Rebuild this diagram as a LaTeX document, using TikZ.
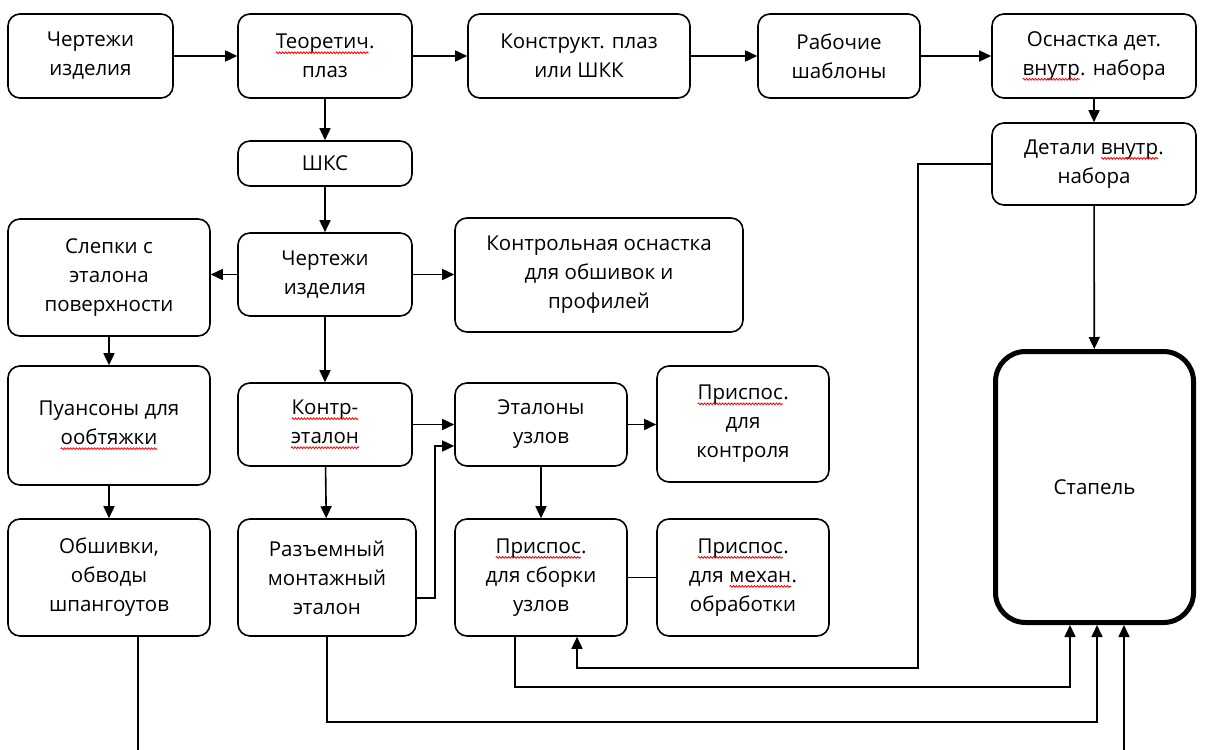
\documentclass[tikz,border=0pt]{standalone}
\usepackage{fontspec}
\setmainfont{Open Sans}
\usetikzlibrary{arrows.meta,decorations.pathmorphing}
\newcommand\sq[1]{\tikz[baseline=(w.base)]{\node[draw=none, fill=none, inner sep=0pt, outer sep=0pt, minimum width=0pt, minimum height=0pt] (w) {#1};
  \draw[red, line width=0.8pt, rounded corners=0pt, decorate, decoration={snake, amplitude=0.9pt, segment length=3pt}] ([yshift=-4pt]w.base west) -- ([yshift=-4pt]w.base east);}}
\begin{document}
\begin{tikzpicture}[x=1pt,y=-1pt,
  box/.style={draw, line width=1.6pt, rounded corners=12pt, align=center, inner sep=2pt,
    font=\fontsize{20.5}{29}\selectfont, text=black},
  bigbox/.style={draw, line width=5pt, rounded corners=30pt, align=center,
    font=\fontsize{20.5}{29}\selectfont, text=black},
  arr/.style={line width=1.6pt, -{Triangle[length=12pt,width=11pt]}},
  ln/.style={line width=1.6pt}]
\useasboundingbox (0,0) rectangle (1206,749);
\fill[white] (0,0) rectangle (1206,749);
% top row
\node[box, minimum width=165, minimum height=84] (b1) at (90.5,56) {Чертежи\\изделия};
\node[box, minimum width=174, minimum height=84] (b2) at (325,56) {\sq{Теоретич}.\\плаз};
\node[box, minimum width=222, minimum height=84] (b3) at (579,56) {Конструкт. плаз\\или ШКК};
\node[box, minimum width=162, minimum height=84] (b4) at (839,56) {Рабочие\\шаблоны};
\node[box, minimum width=204, minimum height=84] (b5) at (1094,56) {Оснастка дет.\\\sq{внутр}. набора};
\node[box, minimum width=204, minimum height=82] (b6) at (1094,164) {Детали \sq{внутр}.\\набора};
\node[box, minimum width=174, minimum height=45] (shks) at (325,163.5) {ШКС};
% second block
\node[box, minimum width=174, minimum height=83] (cz) at (325,274.5) {Чертежи\\изделия};
\node[box, minimum width=202, minimum height=117] (slep) at (109,277.5) {Слепки с\\эталона\\поверхности};
\node[box, minimum width=288, minimum height=114] (kos) at (599,275) {Контрольная оснастка\\для обшивок и\\профилей};
\node[box, minimum width=202, minimum height=119] (puan) at (109,425.5) {Пуансоны для\\\sq{ообтяжки}};
\node[box, minimum width=174, minimum height=83] (ket) at (325,424.5) {\sq{Контр-}\\\sq{эталон}};
\node[box, minimum width=172, minimum height=83] (etal) at (541,424.5) {Эталоны\\узлов};
\node[box, minimum width=172, minimum height=116] (prk) at (743,424) {\sq{Приспос}.\\для\\контроля};
\node[box, minimum width=202, minimum height=117] (obsh) at (109,577.5) {Обшивки,\\обводы\\шпангоутов};
\node[box, minimum width=178, minimum height=117] (raz) at (327,577.5) {Разъемный\\монтажный\\эталон};
\node[box, minimum width=172, minimum height=117] (prsb) at (541,577.5) {\sq{Приспос}.\\для сборки\\узлов};
\node[box, minimum width=172, minimum height=117] (prm) at (743,577.5) {\sq{Приспос}.\\для \sq{механ}.\\обработки};
\node[bigbox, minimum width=198, minimum height=271] (stap) at (1094.5,487) {Стапель};
% coordinates
\coordinate (j1) at (435,598);
\coordinate (j2) at (435,446);
\coordinate (d1) at (918,164);
\coordinate (d2) at (918,668);
\coordinate (d3) at (577,668);
\coordinate (p1) at (515,687);
\coordinate (p2) at (1070,687);
\coordinate (r1) at (327,722);
\coordinate (r2) at (1097,722);
\coordinate (o1) at (138,752);
\coordinate (s1) at (1124,752);
% connectors
\draw[arr] (b1) -- (b2);
\draw[arr] (b2) -- (b3);
\draw[arr] (b3) -- (b4);
\draw[arr] (b4) -- (b5);
\draw[arr] (b5) -- (b6);
\draw[arr] (b2) -- (shks);
\draw[arr] (shks) -- (cz);
\draw[arr] (cz) -- (slep.east |- cz);
\draw[arr] (cz) -- (kos.west |- cz);
\draw[arr] (cz) -- (ket);
\draw[arr] (slep) -- (puan);
\draw[arr] (puan) -- (obsh);
\draw[arr] (ket) -- (etal);
\draw[arr] (ket) -- (raz);
\draw[arr] (raz.east |- j1) -- (j1) -- (j2) -- (etal.west |- j2);
\draw[arr] (etal.east) -- (prk.west |- etal.east);
\draw[arr] (etal) -- (prsb);
\draw[ln] (prsb) -- (prm);
\draw[arr] (b6) -- (stap);
\draw[arr] (b6.west) -- (d1) -- (d2) -- (d3) -- (d3 |- prsb.south);
\draw[arr] (p1 |- prsb.south) -- (p1) -- (p2) -- (p2 |- stap.south);
\draw[arr] (r1 |- raz.south) -- (r1) -- (r2) -- (r2 |- stap.south);
\draw[ln] (o1 |- obsh.south) -- (o1);
\draw[arr] (s1) -- (s1 |- stap.south);
\end{tikzpicture}
\end{document}
